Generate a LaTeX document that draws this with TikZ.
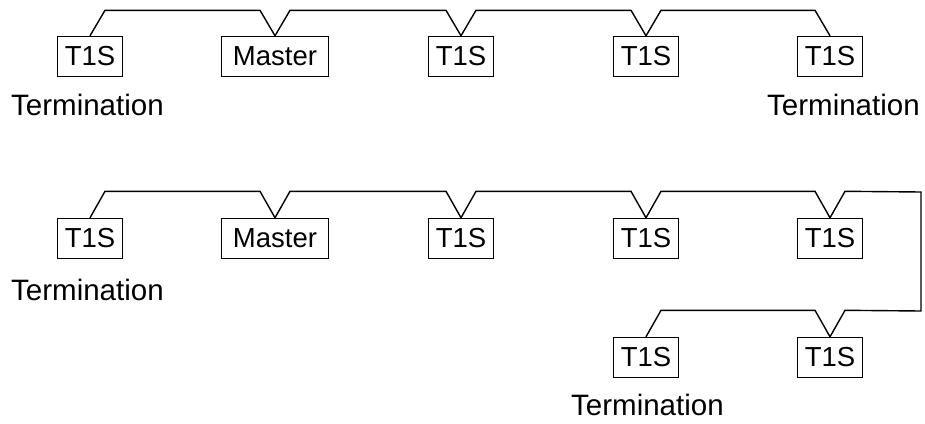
\documentclass[tikz,border=0pt]{standalone}
\usepackage{fontspec}
\setmainfont{Liberation Sans}
\usetikzlibrary{calc}
\tikzset{
  box/.style={draw, line width=1.4pt, minimum width=65pt, minimum height=40pt, inner sep=0pt, font=\fontsize{27.5}{30}\selectfont},
  term/.style={anchor=base west, inner sep=0pt, font=\fontsize{29.5}{32}\selectfont},
  bus/.style={line width=1.4pt, line join=miter}
}
\begin{document}
\begin{tikzpicture}[x=1pt,y=1pt]
\useasboundingbox (0,0) rectangle (925,-423);
\fill[white] (0,0) rectangle (925,-423);
% row 1
\node[box] (a1) at (90,-56.5) {T1S};
\node[box, minimum width=107pt] (a2) at (275,-56.5) {Master};
\node[box] (a3) at (461,-56.5) {T1S};
\node[box] (a4) at (646,-56.5) {T1S};
\node[box] (a5) at (830,-56.5) {T1S};
\draw[bus] (a1.north) -- ($(a1.north)+(15,25.5)$) -- ($(a2.north)+(-15,25.5)$) -- (a2.north) -- ($(a2.north)+(15,25.5)$)
  -- ($(a3.north)+(-15,25.5)$) -- (a3.north) -- ($(a3.north)+(15,25.5)$)
  -- ($(a4.north)+(-15,25.5)$) -- (a4.north) -- ($(a4.north)+(15,25.5)$)
  -- ($(a5.north)+(-15,25.5)$) -- (a5.north);
\node[term] (t1) at (11,-115) {Termination};
\node[term] (t2) at (767,-115) {Termination};
% row 2
\node[box] (b1) at (90,-238.5) {T1S};
\node[box, minimum width=107pt] (b2) at (275,-238.5) {Master};
\node[box] (b3) at (461,-238.5) {T1S};
\node[box] (b4) at (646,-238.5) {T1S};
\node[box] (b5) at (830,-238.5) {T1S};
% row 3
\node[box] (c1) at (646,-357.5) {T1S};
\node[box] (c2) at (830,-357.5) {T1S};
\coordinate (r1) at (921,-192);
\coordinate (r2) at (921,-311);
\draw[bus] (b1.north) -- ($(b1.north)+(15,26.5)$) -- ($(b2.north)+(-15,26.5)$) -- (b2.north) -- ($(b2.north)+(15,26.5)$)
  -- ($(b3.north)+(-15,26.5)$) -- (b3.north) -- ($(b3.north)+(15,26.5)$)
  -- ($(b4.north)+(-15,26.5)$) -- (b4.north) -- ($(b4.north)+(15,26.5)$)
  -- ($(b5.north)+(-15,26.5)$) -- (b5.north) -- ($(b5.north)+(15,26.5)$)
  -- (r1) -- (r2) -- ($(c2.north)+(15,26.5)$) -- (c2.north) -- ($(c2.north)+(-15,26.5)$)
  -- ($(c1.north)+(15,26.5)$) -- (c1.north);
\node[term] (t3) at (11,-300) {Termination};
\node[term] (t4) at (571,-415) {Termination};
\end{tikzpicture}
\end{document}
